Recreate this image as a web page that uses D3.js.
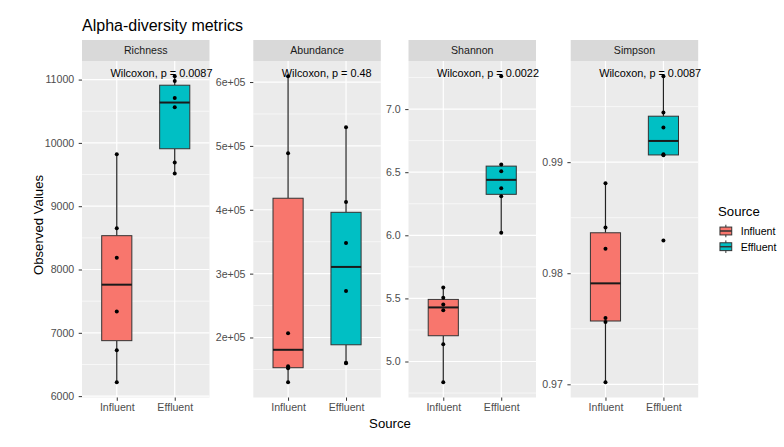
<!DOCTYPE html>
<html>
<head>
<meta charset="utf-8">
<script src="https://cdn.jsdelivr.net/npm/d3@7"></script>
<style>
  body { margin: 0; background: #fff; }
  svg text { font-family: "Liberation Sans", Arial, sans-serif; }
</style>
</head>
<body>
<div id="chart"></div>
<script>
// facet names and groups
const metrics = ["Richness", "Abundance", "Shannon", "Simpson"];
const sources = ["Influent", "Effluent"];
const pValues = ["0.0087", "0.48", "0.0022", "0.0087"];

const richnessInfluent = [9821, 8651, 8185, 7336, 6723, 6220];
const richnessEffluent = [11052, 10978, 10711, 10564, 9689, 9516];
const abundanceInfluent = [609000, 488500, 206700, 154800, 152000, 130000];
const abundanceEffluent = [529400, 412000, 348100, 272900, 160500, 159500];
const shannonInfluent = [5.587, 5.506, 5.451, 5.406, 5.137, 4.836];
const shannonEffluent = [7.26, 6.562, 6.507, 6.372, 6.309, 6.02];
const simpsonInfluent = [0.98809, 0.98412, 0.98221, 0.97597, 0.97561, 0.97019];
const simpsonEffluent = [0.99773, 0.99448, 0.99311, 0.99071, 0.99063, 0.98295];

// y ticks per facet
const richnessTicks = [6000, 7000, 8000, 9000, 10000, 11000];
const abundanceTicks = [200000, 300000, 400000, 500000, 600000];
const shannonTicks = [5.0, 5.5, 6.0, 6.5, 7.0];
const simpsonTicks = [0.97, 0.98, 0.99];

const seriesByMetric = [
  [richnessInfluent, richnessEffluent],
  [abundanceInfluent, abundanceEffluent],
  [shannonInfluent, shannonEffluent],
  [simpsonInfluent, simpsonEffluent]
];
const ticksByMetric = [richnessTicks, abundanceTicks, shannonTicks, simpsonTicks];
const formats = [
  d3.format("d"),
  d => (d / 1e5).toFixed(0) + "e+05",
  d3.format(".1f"),
  d3.format(".2f")
];

const colors = { Influent: "#F8766D", Effluent: "#00BFC4" };

const width = 784, height = 447;
const stripTop = 40, panelTop = 61, panelBottom = 397.5;
const panelLefts = [82, 253.3, 408.5, 570.7];
const panelW = 127.5;

const svg = d3.select("#chart").append("svg")
  .attr("width", width).attr("height", height);

svg.append("rect").attr("width", width).attr("height", height).attr("fill", "#fff");

// boxplot stats like ggplot (type 7 quantiles, 1.5 IQR whiskers)
function boxStats(values) {
  const v = values.slice().sort(d3.ascending);
  const q1 = d3.quantile(v, 0.25), med = d3.quantile(v, 0.5), q3 = d3.quantile(v, 0.75);
  const iqr = q3 - q1;
  const lo = d3.min(v.filter(d => d >= q1 - 1.5 * iqr));
  const hi = d3.max(v.filter(d => d <= q3 + 1.5 * iqr));
  return { q1, med, q3, lo, hi };
}

metrics.forEach((m, i) => {
  const x0 = panelLefts[i];
  const groups = seriesByMetric[i];
  const all = groups.flat();
  const ext = d3.extent(all);
  const pad = (ext[1] - ext[0]) * 0.05;

  const x = d3.scalePoint().domain(sources).range([x0, x0 + panelW]).padding(0.6);
  const y = d3.scaleLinear().domain([ext[0] - pad, ext[1] + pad]).range([panelBottom, panelTop]);

  const g = svg.append("g");

  // strip
  g.append("rect").attr("x", x0).attr("y", stripTop)
    .attr("width", panelW).attr("height", panelTop - stripTop).attr("fill", "#D9D9D9");
  g.append("text").attr("x", x0 + panelW / 2).attr("y", (stripTop + panelTop) / 2 + 3.8)
    .attr("text-anchor", "middle").attr("font-size", 10.6).attr("fill", "#1A1A1A").text(m);

  // panel
  g.append("rect").attr("x", x0).attr("y", panelTop)
    .attr("width", panelW).attr("height", panelBottom - panelTop).attr("fill", "#EBEBEB");

  const ticks = ticksByMetric[i];
  const step = ticks[1] - ticks[0];
  const ext2 = [ticks[0] - step].concat(ticks, [ticks[ticks.length - 1] + step]);
  const minors = d3.pairs(ext2).map(p => (p[0] + p[1]) / 2)
    .filter(d => d > y.domain()[0] && d < y.domain()[1]);

  g.selectAll(".minor").data(minors).join("line")
    .attr("x1", x0).attr("x2", x0 + panelW)
    .attr("y1", d => y(d)).attr("y2", d => y(d))
    .attr("stroke", "#fff").attr("stroke-width", 0.6);
  g.selectAll(".major").data(ticks).join("line")
    .attr("x1", x0).attr("x2", x0 + panelW)
    .attr("y1", d => y(d)).attr("y2", d => y(d))
    .attr("stroke", "#fff").attr("stroke-width", 1.2);
  g.selectAll(".vmajor").data(sources).join("line")
    .attr("x1", d => x(d)).attr("x2", d => x(d))
    .attr("y1", panelTop).attr("y2", panelBottom)
    .attr("stroke", "#fff").attr("stroke-width", 1.2);

  // y axis
  const yAxis = g.append("g").attr("transform", `translate(${x0},0)`)
    .call(d3.axisLeft(y).tickValues(ticks).tickFormat(formats[i]).tickSize(3.3).tickPadding(4.5));
  yAxis.select(".domain").remove();
  yAxis.selectAll(".tick line").attr("stroke", "#333333").attr("stroke-width", 1);
  yAxis.selectAll(".tick text").attr("fill", "#4D4D4D").attr("font-size", 10.6)
    .attr("font-family", "Liberation Sans, Arial, sans-serif");

  // x axis
  const xAxis = g.append("g").attr("transform", `translate(0,${panelBottom})`)
    .call(d3.axisBottom(x).tickSize(3.3).tickPadding(3));
  xAxis.select(".domain").remove();
  xAxis.selectAll(".tick line").attr("stroke", "#333333").attr("stroke-width", 1);
  xAxis.selectAll(".tick text").attr("fill", "#4D4D4D").attr("font-size", 10.6)
    .attr("font-family", "Liberation Sans, Arial, sans-serif");

  // boxplots
  const bw = x.step() * 0.52;
  groups.forEach((vals, j) => {
    const s = sources[j];
    const st = boxStats(vals);
    const cx = x(s);
    g.append("line").attr("x1", cx).attr("x2", cx)
      .attr("y1", y(st.q3)).attr("y2", y(st.hi)).attr("stroke", "#222").attr("stroke-width", 1.2);
    g.append("line").attr("x1", cx).attr("x2", cx)
      .attr("y1", y(st.q1)).attr("y2", y(st.lo)).attr("stroke", "#222").attr("stroke-width", 1.2);
    g.append("rect").attr("x", cx - bw / 2).attr("y", y(st.q3))
      .attr("width", bw).attr("height", y(st.q1) - y(st.q3))
      .attr("fill", colors[s]).attr("stroke", "#333333").attr("stroke-width", 1);
    g.append("line").attr("x1", cx - bw / 2).attr("x2", cx + bw / 2)
      .attr("y1", y(st.med)).attr("y2", y(st.med)).attr("stroke", "#1A1A1A").attr("stroke-width", 2);
    g.selectAll(null).data(vals).join("circle")
      .attr("cx", cx).attr("cy", d => y(d)).attr("r", 2).attr("fill", "#000");
  });

  // test label
  g.append("text").attr("x", x(sources[0]) - 6.3).attr("y", panelTop + 16.3)
    .attr("font-size", 10.9).attr("fill", "#000")
    .text("Wilcoxon, p = " + pValues[i]);
});

// titles
svg.append("text").attr("x", 82).attr("y", 30.5).attr("font-size", 16).attr("fill", "#000")
  .text("Alpha-diversity metrics");
svg.append("text").attr("transform", "translate(42.5,225) rotate(-90)")
  .attr("text-anchor", "middle").attr("font-size", 13.2).attr("fill", "#000")
  .text("Observed Values");
svg.append("text").attr("x", 390).attr("y", 428).attr("text-anchor", "middle")
  .attr("font-size", 13.2).attr("fill", "#000").text("Source");

// legend
const leg = svg.append("g").attr("transform", "translate(718,0)");
leg.append("text").attr("x", 0).attr("y", 216).attr("font-size", 13.2).attr("fill", "#000").text("Source");
const keySize = 15.7;
sources.forEach((s, j) => {
  const cy = 231 + j * keySize;
  const k = leg.append("g").attr("transform", `translate(0,${cy - keySize / 2})`);
  const kx = d3.scaleLinear().range([0, keySize]);
  const ky = d3.scaleLinear().range([0, keySize]);
  k.append("line").attr("x1", kx(0.5)).attr("x2", kx(0.5)).attr("y1", ky(0.1)).attr("y2", ky(0.9))
    .attr("stroke", "#333333").attr("stroke-width", 1);
  k.append("rect").attr("x", kx(0.125)).attr("y", ky(0.25))
    .attr("width", kx(0.75)).attr("height", ky(0.5))
    .attr("fill", colors[s]).attr("stroke", "#333333").attr("stroke-width", 1);
  k.append("line").attr("x1", kx(0.125)).attr("x2", kx(0.875)).attr("y1", ky(0.5)).attr("y2", ky(0.5))
    .attr("stroke", "#333333").attr("stroke-width", 1.5);
  leg.append("text").attr("x", 22.7).attr("y", cy + 3.8).attr("font-size", 10.6).attr("fill", "#000")
    .text(s);
});
</script>
</body>
</html>
